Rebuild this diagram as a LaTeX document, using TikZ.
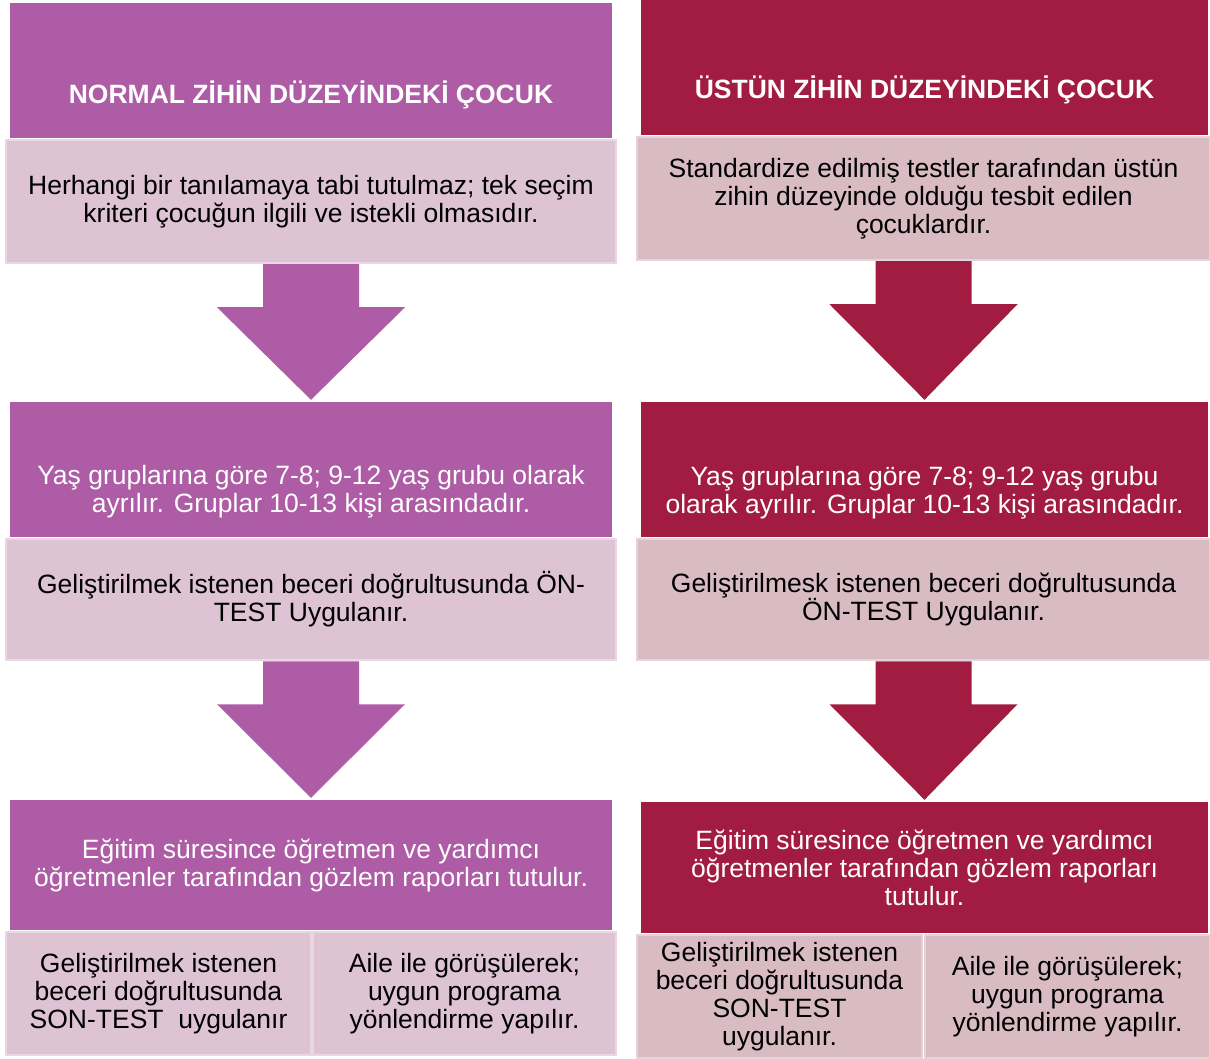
\documentclass[tikz,border=0pt]{standalone}
\usepackage{fontspec}
\setmainfont{Liberation Sans}
\usetikzlibrary{calc}
\definecolor{purp}{HTML}{AD5CA5}
\definecolor{purlt}{HTML}{DEC3D4}
\definecolor{purbd}{HTML}{E9D8E2}
\definecolor{crim}{HTML}{A21C41}
\definecolor{crimlt}{HTML}{D9BCC3}
\definecolor{crimbd}{HTML}{E6D3D8}
\tikzset{
  darkbox/.style={draw=none, fill=#1, inner sep=0pt},
  lightbox/.style={draw=#1bd, fill=#1lt, line width=2.5pt, inner sep=0pt,
    align=center, font=\fontsize{26.5}{28}\selectfont},
  whitetext/.style={text=white, align=center, font=\fontsize{26.5}{28}\selectfont},
  headtext/.style={text=white, font=\fontsize{26.5}{28}\selectfont\bfseries},
}
\newcommand*{\DownArrow}[3]{% #1 = upper node, #2 = lower node, #3 = colour
\fill[#3] ($(#1.south)+(-48,0)$) -- ($(#1.south)+(48,0)$)
  -- ($(#1.south)+(48,43)$) -- ($(#1.south)+(94,43)$)
  -- ($(#2.north)+(0,-2)$)
  -- ($(#1.south)+(-94,43)$) -- ($(#1.south)+(-48,43)$) -- cycle;
}

\begin{document}
\begin{tikzpicture}[x=1pt, y=-1pt]
  \useasboundingbox (0,0) rectangle (1210,1059);

  % left column
  \node[darkbox=purp, minimum width=602pt, minimum height=135pt] (l1) at (311,70.5) {};
  \node[headtext] (l1t) at ($(l1.center)+(0,24)$) {NORMAL ZİHİN DÜZEYİNDEKİ ÇOCUK};
  \node[lightbox=pur, minimum width=610pt, minimum height=123pt] (l1s) at (311,201.5)
    {Herhangi bir tanılamaya tabi tutulmaz; tek seçim\\kriteri çocuğun ilgili ve istekli olmasıdır.};
  \node[darkbox=purp, minimum width=602pt, minimum height=135pt] (l2) at (311,469.5) {};
  \node[whitetext] (l2t) at ($(l2.center)+(0,22)$)
    {Yaş gruplarına göre 7-8; 9-12 yaş grubu olarak\\ayrılır. Gruplar 10-13 kişi arasındadır.};
  \node[lightbox=pur, minimum width=610pt, minimum height=121pt] (l2s) at (311,599.5)
    {Geliştirilmek istenen beceri doğrultusunda ÖN-\\TEST Uygulanır.};
  \node[darkbox=purp, whitetext, minimum width=602pt, minimum height=130pt] (l3) at (311,865)
    {Eğitim süresince öğretmen ve yardımcı\\öğretmenler tarafından gözlem raporları tutulur.};
  \node[lightbox=pur, minimum width=305pt, minimum height=123pt] (l3a) at (158.5,993.5)
    {Geliştirilmek istenen\\beceri doğrultusunda\\SON-TEST~~uygulanır};
  \node[lightbox=pur, minimum width=303pt, minimum height=123pt] (l3b) at (464.5,993.5)
    {Aile ile görüşülerek;\\uygun programa\\yönlendirme yapılır.};

  % right column
  \node[darkbox=crim, minimum width=567pt, minimum height=135pt] (r1) at (924.5,67.5) {};
  \node[headtext] (r1t) at ($(r1.center)+(0,22)$) {ÜSTÜN ZİHİN DÜZEYİNDEKİ ÇOCUK};
  \node[lightbox=crim, minimum width=573pt, minimum height=123pt] (r1s) at (923.5,198.5)
    {Standardize edilmiş testler tarafından üstün\\zihin düzeyinde olduğu tesbit edilen\\çocuklardır.};
  \node[darkbox=crim, minimum width=567pt, minimum height=135pt] (r2) at (924.5,469.5) {};
  \node[whitetext] (r2t) at ($(r2.center)+(0,23)$)
    {Yaş gruplarına göre 7-8; 9-12 yaş grubu\\olarak ayrılır. Gruplar 10-13 kişi arasındadır.};
  \node[lightbox=crim, minimum width=573pt, minimum height=121pt] (r2s) at (923.5,599.5)
    {Geliştirilmesk istenen beceri doğrultusunda\\ÖN-TEST Uygulanır.};
  \node[darkbox=crim, whitetext, minimum width=567pt, minimum height=131pt] (r3) at (924.5,867.5)
    {Eğitim süresince öğretmen ve yardımcı\\öğretmenler tarafından gözlem raporları\\tutulur.};
  \node[lightbox=crim, minimum width=285pt, minimum height=123pt] (r3a) at (779.5,996.5)
    {Geliştirilmek istenen\\beceri doğrultusunda\\SON-TEST\\uygulanır.};
  \node[lightbox=crim, minimum width=285pt, minimum height=123pt] (r3b) at (1067.5,996.5)
    {Aile ile görüşülerek;\\uygun programa\\yönlendirme yapılır.};

  % arrows
  \DownArrow{l1s}{l2}{purp}
  \DownArrow{l2s}{l3}{purp}
  \DownArrow{r1s}{r2}{crim}
  \DownArrow{r2s}{r3}{crim}
\end{tikzpicture}
\end{document}
